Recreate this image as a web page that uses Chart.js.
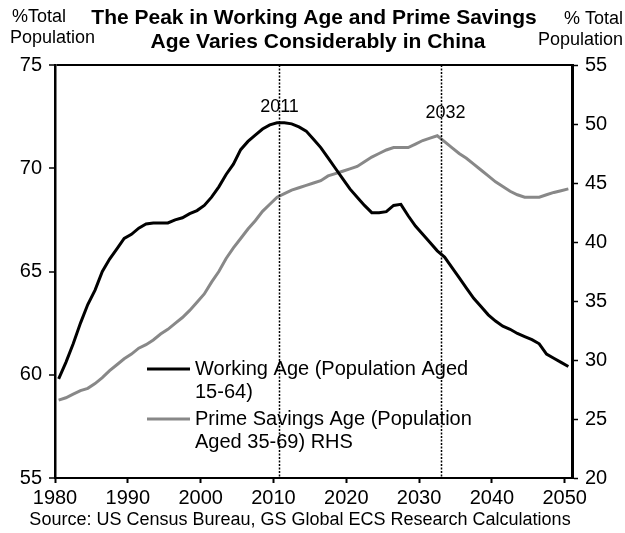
<!DOCTYPE html>
<html>
<head>
<meta charset="utf-8">
<script src="https://cdn.jsdelivr.net/npm/chart.js@4"></script>
<style>
  html, body { margin: 0; padding: 0; background: #fff; }
  #wrap { width: 625px; height: 533px; }
</style>
</head>
<body>
<div id="wrap"><canvas id="chart" width="625" height="533"></canvas></div>
<script>
const FONT = '"Liberation Sans", Arial, sans-serif';

const years = [];
for (let y = 1980; y <= 2050; y++) years.push(y);

const xTicks = [1980, 1990, 2000, 2010, 2020, 2030, 2040, 2050];

// % of total population, aged 15-64 (LHS)
const workingAge = [
    59.8, 60.6, 61.5, 62.5, 63.4, 64.1, 65.0, 65.6, 66.1, 66.6,
    66.8, 67.1, 67.3, 67.35, 67.35, 67.35, 67.5, 67.6, 67.8, 67.95,
    68.2, 68.6, 69.1, 69.7, 70.2, 70.9, 71.3, 71.6, 71.9, 72.1,
    72.2, 72.2, 72.15, 72.0, 71.8, 71.4, 71.0, 70.5, 70.0, 69.5,
    69.0, 68.6, 68.2, 67.85, 67.85, 67.9, 68.2, 68.25, 67.7, 67.2,
    66.8, 66.4, 66.0, 65.7, 65.2, 64.7, 64.2, 63.7, 63.3, 62.9,
    62.6, 62.35, 62.2, 62.0, 61.85, 61.7, 61.5, 61.0, 60.8, 60.6,
    60.4
];

// % of total population, aged 35-69 (RHS)
const primeSavings = [
    26.6, 26.8, 27.1, 27.4, 27.6, 28.0, 28.5, 29.1, 29.6, 30.1,
    30.5, 31.0, 31.3, 31.7, 32.2, 32.6, 33.1, 33.6, 34.2, 34.9,
    35.6, 36.6, 37.5, 38.6, 39.5, 40.3, 41.1, 41.8, 42.6, 43.2,
    43.8, 44.1, 44.4, 44.6, 44.8, 45.0, 45.2, 45.6, 45.8, 46.0,
    46.2, 46.4, 46.8, 47.2, 47.5, 47.8, 48.0, 48.0, 48.0, 48.3,
    48.6, 48.8, 49.0, 48.5, 48.0, 47.5, 47.1, 46.6, 46.1, 45.6,
    45.1, 44.7, 44.3, 44.0, 43.8, 43.8, 43.8, 44.0, 44.2, 44.35,
    44.5
];

const legendWorking = ['Working Age (Population Aged', '15-64)'];
const legendSavings = ['Prime Savings Age (Population', 'Aged 35-69) RHS'];

// dotted peak markers (x in axis units, as placed on the original)
const markers = [
    { text: '2011', at: 2010.7, labelY: 107, dx: 0 },
    { text: '2032', at: 2033.0, labelY: 113, dx: 4 }
];

const titleLines = ['The Peak in Working Age and Prime Savings', 'Age Varies Considerably in China'];
const sourceText = 'Source: US Census Bureau, GS Global ECS Research Calculations';

// excel category axis: each year sits in the middle of its slot
const toPoints = vals => years.map((y, i) => ({ x: y + 0.5, y: vals[i] }));

const textPlugin = {
    id: 'texts',
    afterDraw(chart) {
        const ctx = chart.ctx;
        const x = chart.scales.x;
        const area = chart.chartArea;
        ctx.save();
        ctx.fillStyle = '#000';
        ctx.textBaseline = 'middle';

        ctx.font = `bold 21px ${FONT}`;
        ctx.textAlign = 'center';
        ctx.fillText(titleLines[0], 314, 18);
        ctx.fillText(titleLines[1], 318, 42);

        ctx.font = `18px ${FONT}`;
        ctx.textAlign = 'left';
        ctx.fillText('%Total', 12, 17);
        ctx.fillText('Population', 10, 38);
        ctx.textAlign = 'right';
        ctx.fillText('% Total', 623, 19);
        ctx.fillText('Population', 623, 40);

        ctx.textAlign = 'center';
        ctx.fillText(sourceText, 300, 520);

        // peak markers
        markers.forEach(m => {
            const px = Math.round(x.getPixelForValue(m.at)) + 0.5;
            ctx.strokeStyle = '#000';
            ctx.lineWidth = 1.5;
            ctx.setLineDash([2, 1.5]);
            ctx.beginPath();
            ctx.moveTo(px, area.top);
            ctx.lineTo(px, area.bottom);
            ctx.stroke();
            ctx.setLineDash([]);
            ctx.font = `18px ${FONT}`;
            ctx.fillText(m.text, px + m.dx, m.labelY);
        });

        // legend
        const items = [
            { lines: legendWorking, color: chart.data.datasets[0].borderColor, y: 369 },
            { lines: legendSavings, color: chart.data.datasets[1].borderColor, y: 419 }
        ];
        ctx.font = `20px ${FONT}`;
        ctx.textAlign = 'left';
        items.forEach(it => {
            ctx.strokeStyle = it.color;
            ctx.lineWidth = 3;
            ctx.beginPath();
            ctx.moveTo(147, it.y);
            ctx.lineTo(190, it.y);
            ctx.stroke();
            it.lines.forEach((t, i) => ctx.fillText(t, 195, it.y + i * 23));
        });
        ctx.restore();
    }
};

new Chart(document.getElementById('chart'), {
    type: 'line',
    data: {
        datasets: [
            {
                label: legendWorking.join(' '),
                data: toPoints(workingAge),
                yAxisID: 'y',
                borderColor: '#000000',
                borderWidth: 3,
                pointRadius: 0,
                tension: 0
            },
            {
                label: legendSavings.join(' '),
                data: toPoints(primeSavings),
                yAxisID: 'y2',
                borderColor: '#888888',
                borderWidth: 3,
                pointRadius: 0,
                tension: 0
            }
        ]
    },
    options: {
        responsive: false,
        animation: false,
        layout: { padding: { top: 65, left: 0, right: 0, bottom: 0 } },
        plugins: { legend: { display: false }, tooltip: { enabled: false }, title: { display: false } },
        scales: {
            x: {
                type: 'linear',
                min: 1980,
                max: 2051,
                afterBuildTicks: s => { s.ticks = xTicks.map(v => ({ value: v })); },
                afterFit: s => { s.height = 55; },
                ticks: { autoSkip: false, maxRotation: 0, color: '#000', padding: 3,
                    font: { family: FONT, size: 20 }, callback: v => String(v) },
                grid: { drawOnChartArea: false, tickLength: 5, tickColor: '#000', tickWidth: 2 },
                border: { color: '#000', width: 2 }
            },
            y: {
                position: 'left',
                min: 55,
                max: 75,
                afterFit: s => { s.width = 55; },
                ticks: { stepSize: 5, color: '#000', padding: 7, font: { family: FONT, size: 20 } },
                grid: {
                    color: c => (c.tick && c.tick.value === 75 ? '#000' : 'rgba(0,0,0,0)'),
                    lineWidth: 2, tickColor: '#000', tickLength: 6, tickWidth: 1.5
                },
                border: { color: '#000', width: 2.5 }
            },
            y2: {
                position: 'right',
                min: 20,
                max: 55,
                afterFit: s => { s.width = 53; },
                ticks: { stepSize: 5, color: '#000', padding: 7, font: { family: FONT, size: 20 } },
                grid: { drawOnChartArea: false, tickColor: '#000', tickLength: 6, tickWidth: 1.5 },
                border: { color: '#000', width: 3 }
            }
        }
    },
    plugins: [textPlugin]
});
</script>
</body>
</html>
